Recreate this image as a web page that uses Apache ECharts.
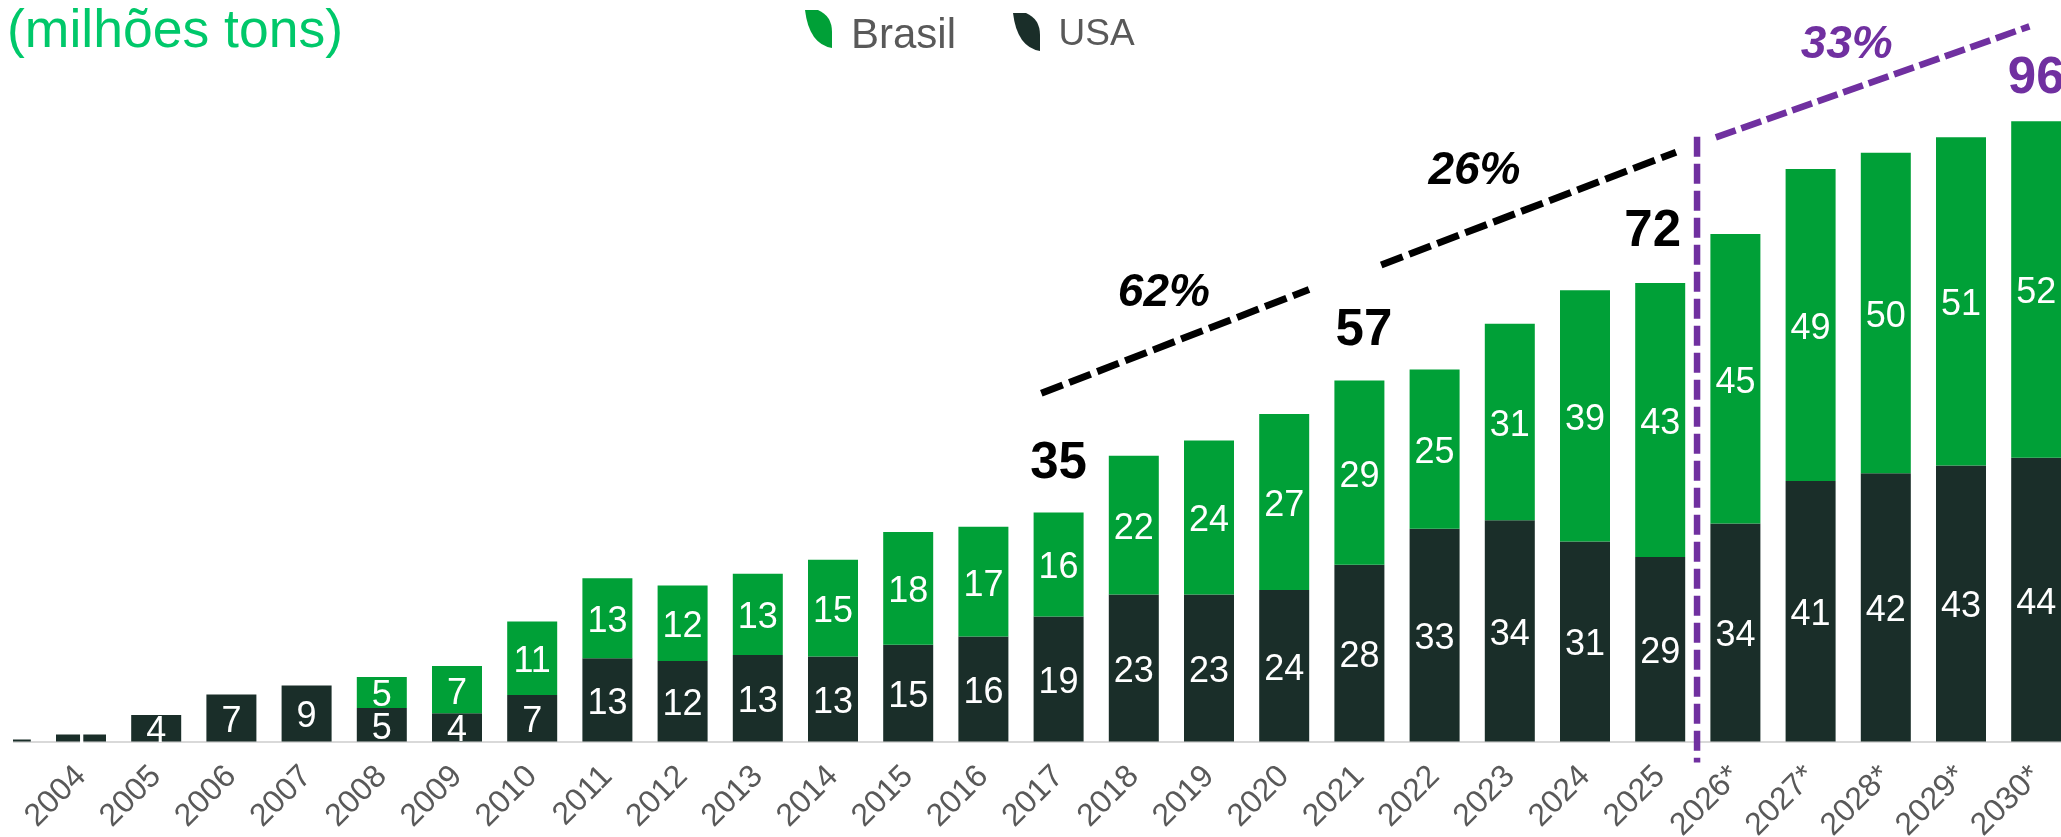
<!DOCTYPE html>
<html>
<head>
<meta charset="utf-8">
<style>
html, body { margin: 0; padding: 0; background: #fff; }
#main { width: 2061px; height: 837px; }
</style>
<script src="https://cdn.jsdelivr.net/npm/echarts@6/dist/echarts.min.js"></script>
</head>
<body>
<div id="main"></div>
<script>
var anos = ['', '2004', '2005', '2006', '2007', '2008', '2009', '2010', '2011', '2012', '2013', '2014', '2015', '2016',
    '2017', '2018', '2019', '2020', '2021', '2022', '2023', '2024', '2025', '2026*', '2027*', '2028*', '2029*', '2030*'];

// alturas
var usa = [0.3, 1.1, 4.1, 7.3, 8.7, 5.2, 4.4, 7.2, 12.9, 12.5, 13.4, 13.2, 15, 16.3,
    19.4, 22.8, 22.8, 23.5, 27.4, 33, 34.3, 31, 28.6, 33.8, 40.4, 41.6, 42.8, 44];
var brasil = [null, null, null, null, null, 4.8, 7.3, 11.4, 12.4, 11.7, 12.6, 15, 17.5, 17,
    16.1, 21.5, 23.9, 27.3, 28.6, 24.7, 30.5, 39, 42.5, 44.9, 48.4, 49.7, 50.9, 52.2];

// rotulos impressos nas barras
var usaRotulos = ['', 1, 4, 7, 9, 5, 4, 7, 13, 12, 13, 13, 15, 16, 19, 23, 23, 24, 28, 33, 34, 31, 29, 34, 41, 42, 43, 44];
var brasilRotulos = ['', '', '', '', '', 5, 7, 11, 13, 12, 13, 15, 18, 17, 16, 22, 24, 27, 29, 25, 31, 39, 43, 45, 49, 50, 51, 52];

// anotacoes: [indice do ano, valor, texto]
var totaisPretos = [[14.0, 43.5, '35'], [18.06, 64.1, '57'], [21.9, 79.5, '72']];
var totaisRoxos = [[27.0, 103.2, '96']];
var taxasPretas = [[15.4, 70.0, '62%'], [19.53, 88.9, '26%']];
var taxasRoxas = [[24.48, 108.4, '33%']];

var linha62 = [[13.77, 54.0], [17.33, 70.1]];
var linha26 = [[18.29, 73.9], [22.21, 91.4]];
var linha33 = [[22.74, 93.7], [26.91, 110.9]];
var divisoria = [[22.49, 93.8], [22.49, -3.25]];

var folha = 'path://M0 0 H13 Q27 6 27 22 V38 Q4 34 0 0 Z';

function serieLinha(dados, cor, largura, traco) {
    return {
        type: 'line', xAxisIndex: 1, yAxisIndex: 0, data: dados, clip: false, silent: true,
        symbol: 'none', z: 5,
        lineStyle: {color: cor, width: largura, type: traco, cap: 'butt'}
    };
}

function serieTexto(dados, cor, tamanho, italico) {
    return {
        type: 'scatter', xAxisIndex: 1, yAxisIndex: 0, data: dados, clip: false, silent: true,
        symbolSize: 0, z: 6, itemStyle: {opacity: 1},
        label: {
            show: true, position: 'inside', offset: [0, 3], color: cor, fontSize: tamanho, fontWeight: 'bold',
            fontStyle: italico ? 'italic' : 'normal', fontFamily: 'Liberation Sans',
            formatter: function (p) { return p.data[2]; }
        }
    };
}

var myChart = echarts.init(document.getElementById('main'));
myChart.setOption({
    animation: false,
    backgroundColor: '#fff',
    title: {
        text: '(milhões tons)', left: 2, top: 0,
        textStyle: {color: '#00c86a', fontSize: 53.5, fontWeight: 'normal', fontFamily: 'Liberation Sans'}
    },
    legend: [
        {
            data: ['Brasil'], left: 805, top: 10, selectedMode: false, padding: 0,
            icon: folha, itemWidth: 27, itemHeight: 38, formatter: '{t|{name}}',
            textStyle: {
                rich: {t: {color: '#595959', fontSize: 42, fontFamily: 'Liberation Sans', padding: [14, 0, 0, 14]}}
            }
        },
        {
            data: ['USA'], left: 1013, top: 13, selectedMode: false, padding: 0,
            icon: folha, itemWidth: 34, itemHeight: 38, formatter: '{t|{name}}',
            textStyle: {
                rich: {t: {color: '#595959', fontSize: 37, fontFamily: 'Liberation Sans', padding: [6, 0, 0, 10]}}
            }
        }
    ],
    grid: {left: -31.8, top: 0, width: 2105.6, bottom: 95.5, outerBoundsMode: 'none'},
    xAxis: [
        {
            type: 'category', data: anos,
            axisTick: {show: false},
            axisLine: {lineStyle: {color: '#d9d9d9', width: 2}},
            axisLabel: {
                interval: 0, rotate: 45, margin: 30, color: '#595959', fontSize: 32,
                fontFamily: 'Liberation Sans'
            }
        },
        {type: 'value', min: -0.5, max: 27.5, show: false}
    ],
    yAxis: {type: 'value', min: 0, max: 115, show: false},
    series: [
        {
            name: 'USA', type: 'bar', stack: 'total', data: usa, barWidth: 50,
            itemStyle: {color: '#1a2e29'},
            label: {
                show: true, position: 'inside', offset: [0, 4], color: '#fff', fontSize: 36, fontFamily: 'Liberation Sans',
                formatter: function (p) { return usaRotulos[p.dataIndex]; }
            }
        },
        {
            name: 'Brasil', type: 'bar', stack: 'total', data: brasil, barWidth: 50,
            itemStyle: {color: '#00a037'},
            label: {
                show: true, position: 'inside', offset: [0, 4], color: '#fff', fontSize: 36, fontFamily: 'Liberation Sans',
                formatter: function (p) { return brasilRotulos[p.dataIndex]; }
            }
        },
        serieLinha(linha62, '#000', 7, [23, 7]),
        serieLinha(linha26, '#000', 7, [23, 7]),
        serieLinha(linha33, '#7030a0', 6.5, [21, 6]),
        serieLinha(divisoria, '#7030a0', 6.5, [20, 7]),
        serieTexto(totaisPretos, '#000', 51, false),
        serieTexto(totaisRoxos, '#7030a0', 51, false),
        serieTexto(taxasPretas, '#000', 46, true),
        serieTexto(taxasRoxas, '#7030a0', 46, true)
    ],
    // o eixo comeca em x=13 na figura original
    graphic: [{type: 'rect', z: 100, shape: {x: 0, y: 730, width: 13, height: 16}, style: {fill: '#fff'}}]
});
</script>
</body>
</html>
